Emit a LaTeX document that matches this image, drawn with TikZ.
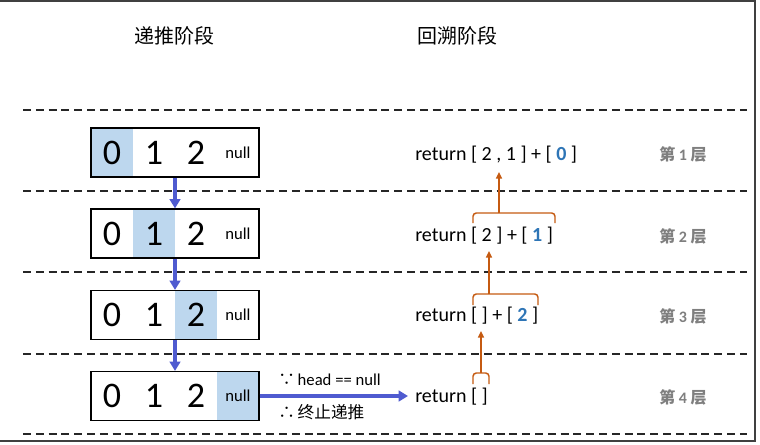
\documentclass[tikz,border=0pt]{standalone}
\usepackage{fontspec}
\setmainfont{Carlito}
\newfontfamily\cjk{Noto Sans CJK SC}
\usetikzlibrary{arrows.meta}
\definecolor{hl}{HTML}{BDD7EE}
\definecolor{pushblue}{HTML}{4F5BD0}
\definecolor{retorange}{HTML}{C55A11}
\definecolor{numblue}{HTML}{2E75B6}
\definecolor{layergray}{HTML}{7F7F7F}
\definecolor{framegray}{HTML}{404040}
\tikzset{
  cellbox/.style={minimum width=31.5pt, minimum height=36.75pt, inner sep=0pt, font=\fontsize{27}{27}\selectfont},
  nullbox/.style={minimum width=31.5pt, minimum height=36.75pt, inner sep=0pt, font=\fontsize{12.5}{12.5}\selectfont},
  listbox/.style={draw=black, line width=0.9pt, minimum width=126pt, minimum height=36.75pt, inner sep=0pt},
  sep/.style={draw=black!85, line width=0.8pt, dash pattern=on 6pt off 3.6pt},
  pusharrow/.style={draw=pushblue, line width=2.6pt, -{Triangle[length=7pt,width=8pt]}},
  retarrow/.style={draw=retorange, line width=1.1pt, -{Triangle[length=5pt,width=4.5pt]}},
  bracket/.style={draw=retorange, line width=1.1pt, rounded corners=2.5pt},
  rettext/.style={anchor=west, inner sep=0pt, font=\fontsize{15}{15}\selectfont},
  layer/.style={inner sep=0pt, text=layergray, font=\fontsize{12}{12}\selectfont},
  title/.style={inner sep=0pt, font=\fontsize{15}{15}\selectfont\cjk},
  note/.style={anchor=west, inner sep=0pt, font=\fontsize{12.5}{12.5}\selectfont}
}
\newcommand{\bn}[1]{{\color{numblue}\bfseries #1}}
\begin{document}
\begin{tikzpicture}[x=0.75pt,y=-0.75pt]
\useasboundingbox (0,0) rectangle (760,444);
% frame
\draw[framegray, line width=1.1pt] (0,0.8) -- (755,0.8) -- (755,441) -- (0,441);
% titles
\node[title] (t1) at (174,36) {递推阶段};
\node[title] (t2) at (457,36) {回溯阶段};
% separators
\foreach \y in {110,191,272,354,434}
  \draw[sep] (23,\y) -- (747,\y);
% list boxes
\foreach \i/\y/\fa/\fb/\fc/\fd in {1/152.5/hl/white/white/white,2/233.5/white/hl/white/white,3/315/white/white/hl/white,4/396/white/white/white/hl}{
  \node[cellbox, fill=\fa] (c\i a) at (112,\y) {0};
  \node[cellbox, fill=\fb] (c\i b) at (154,\y) {1};
  \node[cellbox, fill=\fc] (c\i c) at (196,\y) {2};
  \node[nullbox, fill=\fd] (c\i d) at (238,\y) {null};
  \node[listbox] (b\i) at (175,\y) {};
}
\draw[pusharrow] (b1.south) -- (b2.north);
\draw[pusharrow] (b2.south) -- (b3.north);
\draw[pusharrow] (b3.south) -- (b4.north);
% return texts
\node[rettext] (r1) at (415,155) {return [ 2 , 1 ] + [ \bn{0} ]};
\node[rettext] (r2) at (415,236) {return [ 2 ] + [ \bn{1} ]};
\node[rettext] (r3) at (415,316) {return [ ] + [ \bn{2} ]};
\node[rettext] (r4) at (415,397) {return [ ]};
% base-case arrow
\coordinate (e4) at (408,396);
\draw[pusharrow] (b4.east) -- (e4);
\node[note] (n1) at (278,380) {{\cjk ∵}\,head == null};
\node[note] (n2) at (278,412) {{\cjk ∴\,终止递推}};
% brackets and return arrows
\coordinate (s2) at (499,213); \coordinate (a2) at (499,172);
\coordinate (s3) at (489,294); \coordinate (a3) at (489,251);
\coordinate (s4) at (481,373); \coordinate (a4) at (481,331);
\draw[bracket] (473,223) -- (473,213) -- (555,213) -- (555,223);
\draw[bracket] (473,305) -- (473,294) -- (538,294) -- (538,305);
\draw[bracket] (473,384) -- (473,373) -- (489,373) -- (489,384);
\draw[retarrow] (s2) -- (a2);
\draw[retarrow] (s3) -- (a3);
\draw[retarrow] (s4) -- (a4);
% layer labels
\foreach \i/\y in {1/154,2/236,3/316,4/397}
  \node[layer] (L\i) at (683,\y) {{\cjk\bfseries 第} {\bfseries \i} {\cjk\bfseries 层}};
\end{tikzpicture}
\end{document}
